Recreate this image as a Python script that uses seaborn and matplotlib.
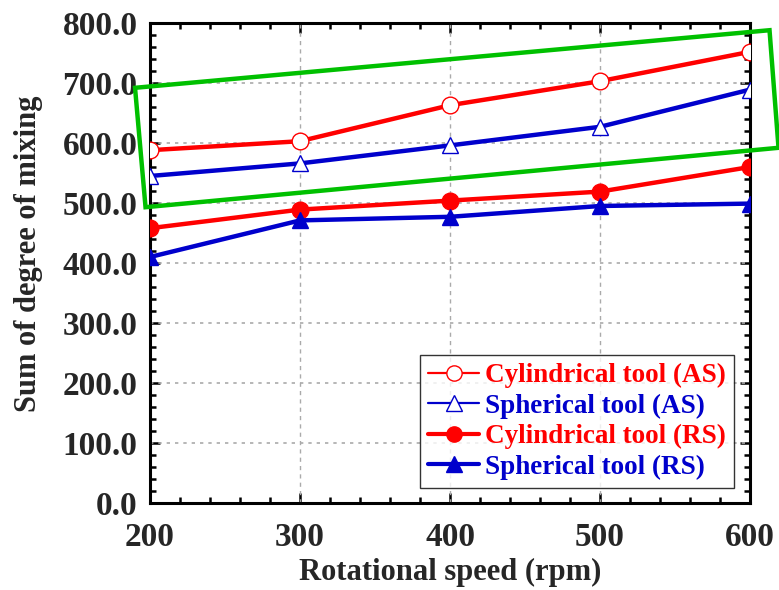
import matplotlib
matplotlib.use('Agg')
import matplotlib.pyplot as plt
import seaborn as sns
import pandas as pd
from matplotlib.lines import Line2D
from matplotlib.patches import Polygon
from matplotlib.ticker import MultipleLocator, FormatStrFormatter

# data
speed = [200, 300, 400, 500, 600]
cyl_as = [588, 603, 663, 703, 752]
sph_as = [545, 566, 596, 627, 689]
cyl_rs = [458, 489, 504, 519, 560]
sph_rs = [410, 471, 477, 495, 499]

labels = ['Cylindrical tool (AS)', 'Spherical tool (AS)',
          'Cylindrical tool (RS)', 'Spherical tool (RS)']
colors = ['#ff0000', '#0000cc', '#ff0000', '#0000cc']
markers = ['o', '^', 'o', '^']
filled = [False, False, True, True]
series = [cyl_as, sph_as, cyl_rs, sph_rs]

sns.set_style('ticks')
plt.rcParams['font.family'] = ['Liberation Serif', 'DejaVu Serif']
plt.rcParams['font.weight'] = 'bold'

fig = plt.figure(figsize=(7.79, 5.90), dpi=100)
ax = fig.add_axes([0.1926, 0.1475, 0.7702, 0.8135])

handles = []
for vals, lab, c, m, f in zip(series, labels, colors, markers, filled):
    df = pd.DataFrame({'speed': speed, 'value': vals})
    face = c if f else 'white'
    sns.lineplot(data=df, x='speed', y='value', ax=ax, color=c, lw=3.2,
                 marker=m, markersize=12, markerfacecolor=face,
                 markeredgecolor=c, markeredgewidth=1, zorder=3)
    handles.append(Line2D([], [], color=c, lw=3 if f else 1.6, marker=m,
                          markersize=11, markerfacecolor=face,
                          markeredgecolor=c, markeredgewidth=1))

ax.set_xlim(200, 600)
ax.set_ylim(0, 800)
ax.xaxis.set_major_locator(MultipleLocator(100))
ax.xaxis.set_minor_locator(MultipleLocator(20))
ax.yaxis.set_major_locator(MultipleLocator(100))
ax.yaxis.set_minor_locator(MultipleLocator(20))
ax.yaxis.set_major_formatter(FormatStrFormatter('%.1f'))

ax.tick_params(which='both', direction='in', top=True, right=True,
               width=1.8, color='black')
ax.tick_params(which='major', length=7, labelsize=24)
ax.tick_params(axis='x', which='major', pad=14)
ax.tick_params(axis='y', which='major', pad=9)
ax.tick_params(which='minor', length=4)
for lbl in ax.get_xticklabels() + ax.get_yticklabels():
    lbl.set_fontweight('bold')
for s in ax.spines.values():
    s.set_linewidth(2.2)
    s.set_color('black')

for xv in [300, 400, 500]:
    ax.axvline(xv, color='#aaaaaa', lw=1, ls=(0, (3, 3)), zorder=1)
for yv in range(100, 800, 100):
    ax.axhline(yv, color='#aaaaaa', lw=1.2, ls=(0, (2, 3)), zorder=1)

ax.set_xlabel('Rotational speed (rpm)', fontsize=22, fontweight='bold', va='center')
ax.set_ylabel('Sum of degree of mixing', fontsize=22, fontweight='bold', va='center')
ax.xaxis.set_label_coords(0.5, -0.144)
ax.yaxis.set_label_coords(-0.203, 0.52)

leg = ax.legend(handles=handles, labels=labels, loc='lower right',
                bbox_to_anchor=(0.982, 0.02), fontsize=19.5, frameon=True,
                fancybox=False, edgecolor='black', handlelength=1.9,
                handletextpad=0.2, borderpad=0.3, labelspacing=0.2,
                borderaxespad=0.2)
leg.get_frame().set_linewidth(1.0)
for t, c in zip(leg.get_texts(), colors):
    t.set_color(c)
    t.set_fontweight('bold')

# green highlight box drawn over the AS curves
box = Polygon([(190, 692), (613, 788), (619, 592), (197, 493)], closed=True,
              fill=False, edgecolor='#00c000', lw=3.2, clip_on=False, zorder=5)
ax.add_patch(box)

fig.savefig('out.png', dpi=100)
